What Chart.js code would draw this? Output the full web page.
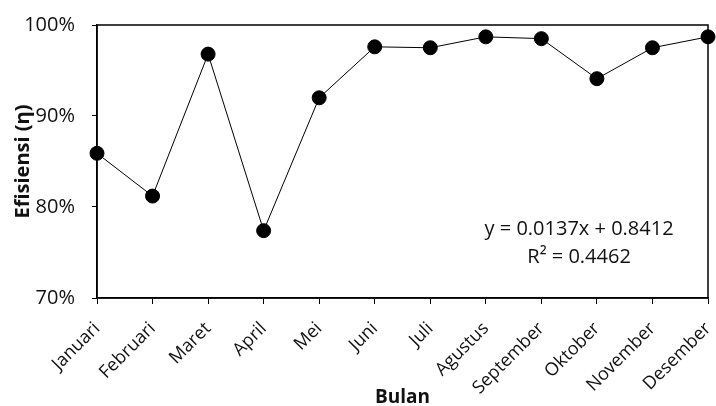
<!DOCTYPE html>
<html>
<head>
<meta charset="utf-8">
<script src="https://cdn.jsdelivr.net/npm/chart.js@4/dist/chart.umd.min.js"></script>
<style>
    html, body { margin: 0; padding: 0; background: #fff; }
    #wrap { width: 716px; height: 406px; }
</style>
</head>
<body>
<div id="wrap"><canvas id="effChart" width="716" height="406"></canvas></div>
<script>
// Efisiensi bulanan

const months = ['Januari', 'Februari', 'Maret', 'April', 'Mei', 'Juni', 'Juli',
    'Agustus', 'September', 'Oktober', 'November', 'Desember'];
const efficiency = [0.859, 0.812, 0.968, 0.774, 0.920, 0.976, 0.975, 0.987, 0.985, 0.941, 0.975, 0.987];
const yTicks = [0.7, 0.8, 0.9, 1.0];
const trendLabel = ['y = 0.0137x + 0.8412', 'R\u00B2 = 0.4462'];

const FONT = "'Open Sans', 'DejaVu Sans', sans-serif";

// Frame around the plot area + trendline equation text
const framePlugin = {
    id: 'frame',
    afterDatasetsDraw(chart) {
        const { ctx, chartArea: a } = chart;
        ctx.save();
        ctx.strokeStyle = '#000';
        ctx.lineWidth = 1.5;
        ctx.strokeRect(a.left, a.top, a.right - a.left, a.bottom - a.top);

        ctx.fillStyle = '#111';
        ctx.font = '20px ' + FONT;
        ctx.textAlign = 'center';
        ctx.textBaseline = 'middle';
        const cx = a.left + (a.right - a.left) * 0.789;
        ctx.fillText(trendLabel[0], cx, a.top + (a.bottom - a.top) * 0.748);
        ctx.fillText(trendLabel[1], cx, a.top + (a.bottom - a.top) * 0.85);
        ctx.restore();
    }
};

const ctx = document.getElementById('effChart');

new Chart(ctx, {
    type: 'line',
    data: {
        labels: months,
        datasets: [{
            data: efficiency,
            borderColor: '#000',
            borderWidth: 1,
            backgroundColor: '#000',
            pointBackgroundColor: '#000',
            pointBorderColor: '#000',
            pointRadius: 7,
            tension: 0,
            clip: false
        }]
    },
    options: {
        responsive: false,
        animation: false,
        layout: {
            padding: { top: 25, right: 7, left: 0, bottom: 0 }
        },
        plugins: {
            legend: { display: false },
            tooltip: { enabled: false }
        },
        scales: {
            x: {
                offset: false,
                border: { display: true, color: '#000', width: 1.5 },
                grid: {
                    display: true,
                    drawOnChartArea: false,
                    drawTicks: true,
                    tickLength: 6,
                    color: '#000',
                    lineWidth: 1
                },
                ticks: {
                    color: '#111',
                    font: { family: FONT, size: 18 },
                    minRotation: 45,
                    maxRotation: 45,
                    autoSkip: false,
                    padding: 14
                },
                title: {
                    display: true,
                    text: 'Bulan',
                    color: '#111',
                    font: { family: FONT, size: 19, weight: 'bold' },
                    padding: { top: 0, bottom: -3 }
                },
                afterFit(scale) {
                    scale.height = 108;
                    scale.paddingLeft = 0;
                    scale.paddingRight = 0;
                }
            },
            y: {
                min: 0.7,
                max: 1.0,
                afterBuildTicks(scale) {
                    scale.ticks = yTicks.map(v => ({ value: v }));
                },
                border: { display: true, color: '#000', width: 1.5 },
                grid: {
                    display: true,
                    drawOnChartArea: false,
                    drawTicks: true,
                    tickLength: 5,
                    color: '#000'
                },
                ticks: {
                    color: '#111',
                    font: { family: FONT, size: 20 },
                    padding: 17,
                    callback: function(value) {
                        return Math.round(value * 100) + '%';
                    }
                },
                title: {
                    display: true,
                    text: 'Efisiensi (\u03B7)',
                    color: '#111',
                    font: { family: FONT, size: 20, weight: 'bold' },
                    padding: { top: 11, bottom: 2 }
                },
                afterFit(scale) {
                    scale.width = 97;
                    scale.paddingTop = 0;
                    scale.paddingBottom = 0;
                }
            }
        }
    },
    plugins: [framePlugin]
});
</script>
</body>
</html>
